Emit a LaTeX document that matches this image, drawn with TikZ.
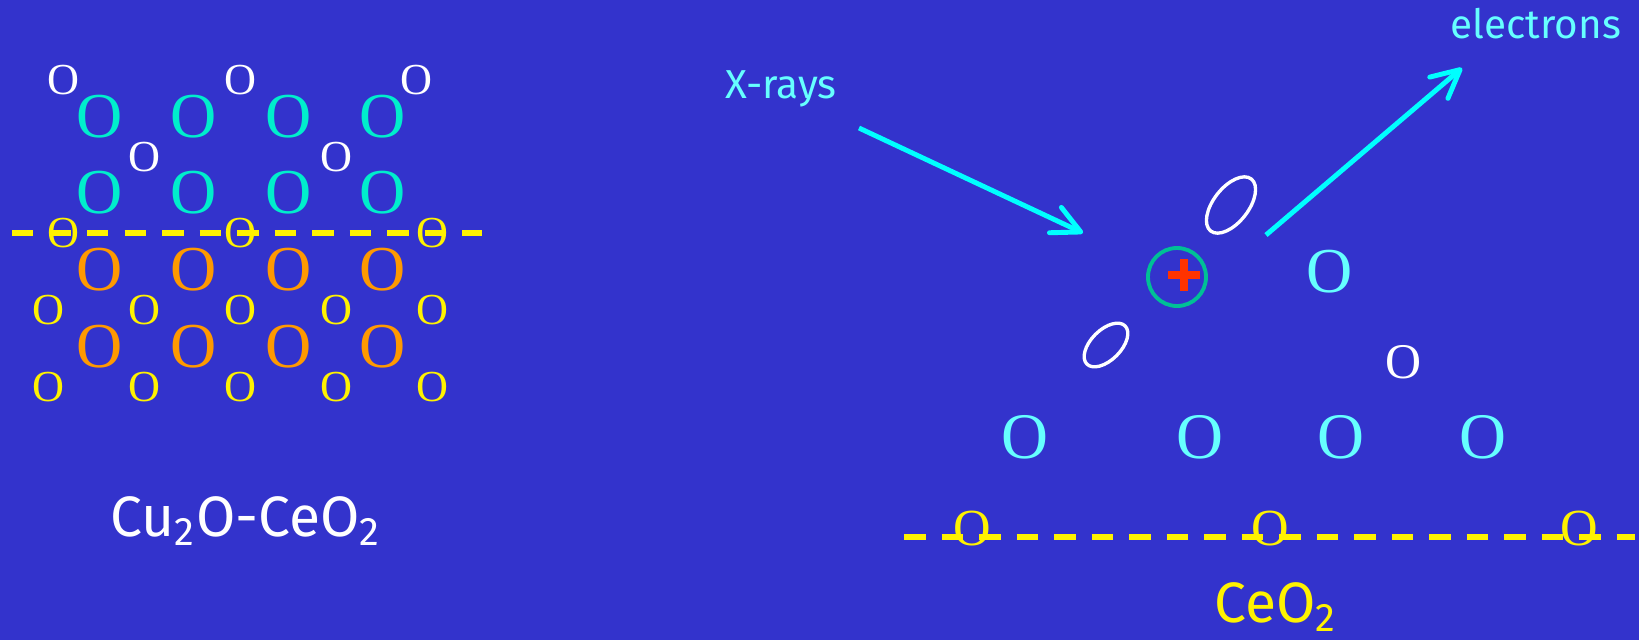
\documentclass[tikz,border=0pt]{standalone}
\usepackage{fontspec}
\setmainfont{Liberation Serif}
\setsansfont{Fira Sans}
\usepackage{tikz}
\usetikzlibrary{arrows.meta,shapes.geometric}

\definecolor{slideblue}{RGB}{51,51,204}
\definecolor{oxteal}{RGB}{0,238,204}
\definecolor{oxcyan}{RGB}{102,255,255}
\definecolor{raycyan}{RGB}{0,255,255}
\definecolor{cuorange}{RGB}{255,153,0}
\definecolor{ionring}{RGB}{0,192,150}
\definecolor{plusred}{RGB}{255,51,0}

\begin{document}
\begin{tikzpicture}[every node/.style={inner sep=0pt},
  bigO/.style={font=\fontsize{18.2}{19}\selectfont},
  smallO/.style={font=\fontsize{12.6}{13}\selectfont},
  chem/.style={font=\sffamily\fontsize{16.2}{17}\selectfont, anchor=base west},
  tag/.style={font=\sffamily\fontsize{11.5}{12}\selectfont, anchor=base west, text=oxcyan},
  ray/.style={line width=1.4pt, raycyan, -{Straight Barb[length=2.8mm, width=2.8mm, round]}},
  dashline/.style={yellow, line width=1.85pt, dash pattern=on 0.215cm off 0.16cm},
  tilted/.style={draw=white, line width=0.95pt, ellipse}]

\path[use as bounding box, fill=slideblue] (0,0) rectangle (16.39,6.40);

% Cu2O on CeO2 lattice
\draw[dashline] (0.12,4.07) -- (4.82,4.07);
\foreach \x [count=\i] in {0.63,2.40,4.16} \node[smallO, text=white] (cw-a\i) at (\x,5.60) {O};
\foreach \x [count=\i] in {1.00,1.94,2.89,3.83} \node[bigO, text=oxteal] (cu-a\i) at (\x,5.23) {O};
\foreach \x [count=\i] in {1.44,3.36} \node[smallO, text=white] (cw-b\i) at (\x,4.83) {O};
\foreach \x [count=\i] in {1.00,1.94,2.89,3.83} \node[bigO, text=oxteal] (cu-b\i) at (\x,4.47) {O};
\foreach \x [count=\i] in {0.63,2.40,4.32} \node[smallO, text=yellow] (cy-a\i) at (\x,4.07) {O};
\foreach \x [count=\i] in {1.00,1.94,2.89,3.83} \node[bigO, text=cuorange] (ce-a\i) at (\x,3.70) {O};
\foreach \x [count=\i] in {0.48,1.44,2.40,3.36,4.32} \node[smallO, text=yellow] (cy-b\i) at (\x,3.30) {O};
\foreach \x [count=\i] in {1.00,1.94,2.89,3.83} \node[bigO, text=cuorange] (ce-b\i) at (\x,2.93) {O};
\foreach \x [count=\i] in {0.48,1.44,2.40,3.36,4.32} \node[smallO, text=yellow] (cy-c\i) at (\x,2.53) {O};
\node[chem, text=white] (mixed) at (1.10,1.04) {Cu\textsubscript{2}O-CeO\textsubscript{2}};

% photoemission from the CeO2 surface
\node[tag] (xlabel) at (7.25,5.42) {X-rays};
\node[tag] (elabel) at (14.50,6.02) {electrons};
\coordinate (xin) at (8.59,5.12);
\coordinate (xhit) at (10.83,4.07);
\coordinate (eout) at (12.66,4.05);
\coordinate (eend) at (14.62,5.72);
\draw[ray] (xin) -- (xhit);
\draw[ray] (eout) -- (eend);

\node[tilted, rotate=52, minimum width=0.66cm, minimum height=0.35cm] (ox-up) at (12.31,4.35) {};
\node[tilted, rotate=45, minimum width=0.54cm, minimum height=0.30cm] (ox-low) at (11.06,2.95) {};
\node[circle, draw=ionring, line width=1.1pt, minimum size=0.58cm] (ion) at (11.77,3.63) {};
\coordinate (pc) at (11.84,3.65);
\draw[plusred, line width=0.08cm] (pc)+(-0.16,0) -- +(0.16,0);
\draw[plusred, line width=0.08cm] (pc)+(0,-0.16) -- +(0,0.16);
\node[bigO, text=oxcyan] (ce-top) at (13.30,3.68) {O};
\node[font=\fontsize{14.2}{15}\selectfont, text=white] (ce-w) at (14.04,2.78) {O};
\foreach \x [count=\i] in {10.25,12.00,13.41,14.83} \node[font=\fontsize{18.5}{19}\selectfont, text=oxcyan] (ce-c\i) at (\x,2.03) {O};
\draw[dashline] (9.04,1.03) -- (16.35,1.03);
\foreach \x [count=\i] in {9.72,12.70,15.79} \node[font=\fontsize{14.8}{15}\selectfont, text=yellow] (ce-y\i) at (\x,1.11) {O};
\node[chem, text=yellow] (bulk) at (12.14,0.18) {CeO\textsubscript{2}};
\end{tikzpicture}
\end{document}
